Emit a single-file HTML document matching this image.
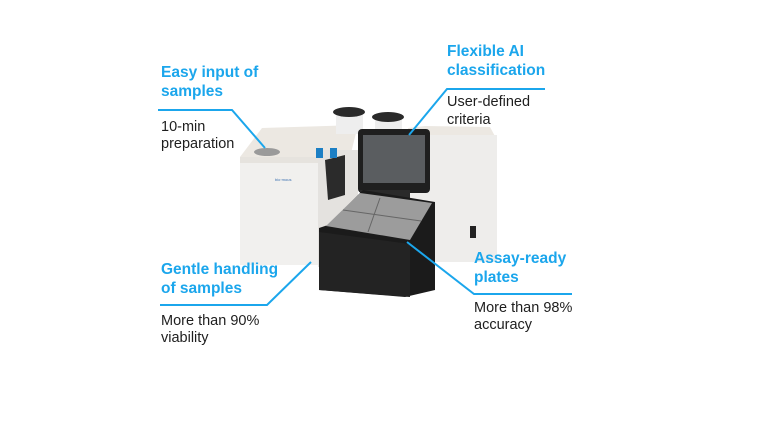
<!DOCTYPE html>
<html><head><meta charset="utf-8"><style>
html,body{margin:0;padding:0;background:#fff;}
svg{display:block}
.h{font-family:"Liberation Sans",sans-serif;font-weight:bold;font-size:15.5px;fill:#1ba6ec}
.t{font-family:"Liberation Sans",sans-serif;font-size:14.5px;fill:#1e1e1e}
</style></head><body>
<svg width="768" height="432" viewBox="0 0 768 432" xmlns="http://www.w3.org/2000/svg">
<rect width="768" height="432" fill="#fff"/>
<!-- left body -->
<polygon points="240,157 262,128 358,125 350,157" fill="#ece8e2"/>
<rect x="240" y="157" width="85" height="108" fill="#f1f0ee"/>
<rect x="240" y="157" width="85" height="6" fill="#e6e3de"/>
<rect x="318" y="150" width="40" height="117" fill="#e4e2df"/>
<polygon points="325,160 345,155 345,195 328,200" fill="#2b2b2b"/>
<rect x="316" y="148" width="7" height="10" fill="#1c7fc4"/>
<rect x="330" y="148" width="7" height="10" fill="#1c7fc4"/>
<ellipse cx="267" cy="152" rx="13" ry="4" fill="#9a9a9a"/>
<text x="275" y="181" font-family="Liberation Sans,sans-serif" font-size="4" fill="#3a6fb0">bio·mous</text>
<!-- containers -->
<rect x="336" y="112" width="27" height="22" fill="#eeeeee"/>
<ellipse cx="349" cy="112" rx="16" ry="5" fill="#2a2a2a"/>
<rect x="375" y="117" width="27" height="20" fill="#eeeeee"/>
<ellipse cx="388" cy="117" rx="16" ry="5" fill="#2a2a2a"/>
<!-- right body -->
<polygon points="408,128 425,126 490,127 497,140 410,140" fill="#ece8e2"/>
<rect x="410" y="135" width="87" height="127" fill="#eeedeb"/>
<rect x="470" y="226" width="6" height="12" fill="#222"/>
<!-- screen -->
<rect x="358" y="129" width="72" height="64" rx="4" fill="#1f1f1f"/>
<rect x="363" y="135" width="62" height="48" fill="#5a5d60"/>
<rect x="360" y="190" width="50" height="20" fill="#2a2a2a"/>
<!-- black box -->
<polygon points="328,225 363,190 435,202 435,290 405,297 319,290 319,228" fill="#1b1b1b"/>
<polygon points="326,226 360,193 432,203 410,240" fill="#9c9c9c"/>
<line x1="343" y1="210" x2="421" y2="221" stroke="#666" stroke-width="1"/>
<line x1="380" y1="198" x2="368" y2="232" stroke="#666" stroke-width="1"/>
<polygon points="319,232 410,244 410,297 319,290" fill="#232323"/>
<!-- connectors -->
<g stroke="#1ba6ec" stroke-width="2" fill="none">
<polyline points="158,110 232,110 265,148"/>
<polyline points="545,89 447,89 409,135"/>
<polyline points="160,305 267,305 311,262"/>
<polyline points="572,294 474,294 407,242"/>
</g>
<!-- labels -->
<text class="h" x="161" y="77">Easy input of</text>
<text class="h" x="161" y="96">samples</text>
<text class="t" x="161" y="131">10-min</text>
<text class="t" x="161" y="148">preparation</text>
<text class="h" x="447" y="56">Flexible AI</text>
<text class="h" x="447" y="75">classification</text>
<text class="t" x="447" y="106">User-defined</text>
<text class="t" x="447" y="124">criteria</text>
<text class="h" x="161" y="274">Gentle handling</text>
<text class="h" x="161" y="293">of samples</text>
<text class="t" x="161" y="325">More than 90%</text>
<text class="t" x="161" y="342">viability</text>
<text class="h" x="474" y="263">Assay-ready</text>
<text class="h" x="474" y="282">plates</text>
<text class="t" x="474" y="312">More than 98%</text>
<text class="t" x="474" y="329">accuracy</text>
</svg>
</body></html>
